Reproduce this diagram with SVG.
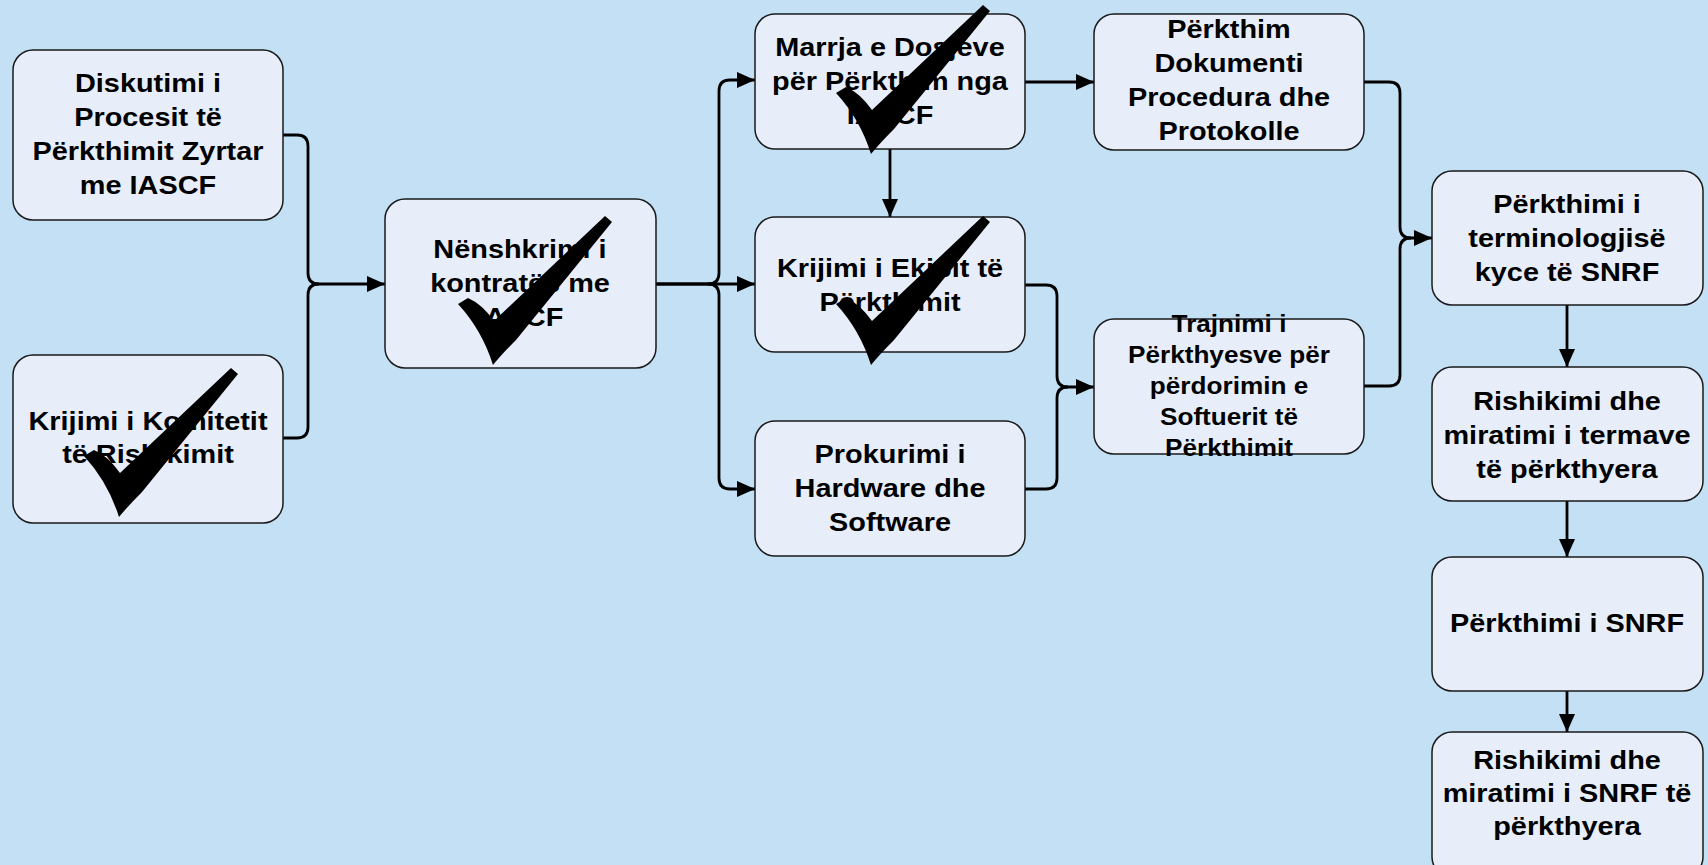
<svg xmlns="http://www.w3.org/2000/svg" xmlns:xlink="http://www.w3.org/1999/xlink" width="1708" height="865" viewBox="0 0 1708 865">
<style>
.box{fill:#E7EEF9;stroke:#1a1a1a;stroke-width:1.5}
.t{font-family:"Liberation Sans",Arial,sans-serif;font-weight:bold;font-size:26.5px;fill:#000;text-anchor:middle}
.ts{font-size:24px}
.c{fill:none;stroke:#000;stroke-width:2.8}
.chk{fill:#000}
</style>
<defs>
<marker id="arr" viewBox="0 0 18 16" refX="18" refY="8" markerWidth="18" markerHeight="16" orient="auto" markerUnits="userSpaceOnUse">
<path d="M0,0 L18,8 L0,16 Z" fill="#000"/>
</marker>
<path id="check" d="M0,88 L10,82 Q24,88 36,105 L147,0 L154,6 L58,124 Q44,138 35,149 Q24,114 0,88 Z"/>
</defs>
<rect x="0" y="0" width="1708" height="865" fill="#C3E0F4"/>

<g id="connectors">
<path class="c" d="M283,135 H297 Q308,135 308,146 V273 Q308,284 319,284 H385" marker-end="url(#arr)"/>
<path class="c" d="M283,438 H297 Q308,438 308,427 V295 Q308,284 319,284"/>
<path class="c" d="M656,284 H708 Q719,284 719,273 V91 Q719,80 730,80 H755" marker-end="url(#arr)"/>
<path class="c" d="M656,284 H755" marker-end="url(#arr)"/>
<path class="c" d="M708,284 Q719,284 719,295 V478 Q719,489 730,489 H755" marker-end="url(#arr)"/>
<path class="c" d="M1025,82 H1094" marker-end="url(#arr)"/>
<path class="c" d="M890,149 V217" marker-end="url(#arr)"/>
<path class="c" d="M1025,285 H1046 Q1057,285 1057,296 V376 Q1057,387 1068,387 H1094" marker-end="url(#arr)"/>
<path class="c" d="M1025,489 H1046 Q1057,489 1057,478 V398 Q1057,387 1068,387"/>
<path class="c" d="M1364,82 H1389 Q1400,82 1400,93 V227 Q1400,238 1411,238 H1432" marker-end="url(#arr)"/>
<path class="c" d="M1364,386 H1389 Q1400,386 1400,375 V249 Q1400,238 1411,238"/>
<path class="c" d="M1567,305 V367" marker-end="url(#arr)"/>
<path class="c" d="M1567,501 V557" marker-end="url(#arr)"/>
<path class="c" d="M1567,691 V732" marker-end="url(#arr)"/>
</g>

<g id="n1">
<rect class="box" x="13" y="50" width="270" height="170" rx="20"/>
<text class="t" transform="translate(148 0) scale(1.09 1)"><tspan x="0" y="92">Diskutimi i</tspan><tspan x="0" y="126">Procesit të</tspan><tspan x="0" y="160">Përkthimit Zyrtar</tspan><tspan x="0" y="194">me IASCF</tspan></text>
</g>

<g id="n2">
<rect class="box" x="13" y="355" width="270" height="168" rx="20"/>
<text class="t" transform="translate(148 0) scale(1.09 1)"><tspan x="0" y="430">Krijimi i Komitetit</tspan><tspan x="0" y="463">të Rishikimit</tspan></text>
<use href="#check" xlink:href="#check" class="chk" x="84" y="368"/>
</g>

<g id="n3">
<rect class="box" x="385" y="199" width="271" height="169" rx="20"/>
<text class="t" transform="translate(520 0) scale(1.09 1)"><tspan x="0" y="258">Nënshkrimi i</tspan><tspan x="0" y="292">kontratës me</tspan><tspan x="0" y="326">IASCF</tspan></text>
<use href="#check" xlink:href="#check" class="chk" x="458" y="216"/>
</g>

<g id="n4">
<rect class="box" x="755" y="14" width="270" height="135" rx="20"/>
<text class="t" transform="translate(890 0) scale(1.09 1)"><tspan x="0" y="56">Marrja e Dosjeve</tspan><tspan x="0" y="90">për Përkthim nga</tspan><tspan x="0" y="124">IASCF</tspan></text>
<use href="#check" xlink:href="#check" class="chk" x="836" y="5"/>
</g>

<g id="n5">
<rect class="box" x="755" y="217" width="270" height="135" rx="20"/>
<text class="t" transform="translate(890 0) scale(1.09 1)"><tspan x="0" y="277">Krijimi i Ekipit të</tspan><tspan x="0" y="311">Përkthimit</tspan></text>
<use href="#check" xlink:href="#check" class="chk" x="836" y="216"/>
</g>

<g id="n6">
<rect class="box" x="755" y="421" width="270" height="135" rx="20"/>
<text class="t" transform="translate(890 0) scale(1.09 1)"><tspan x="0" y="463">Prokurimi i</tspan><tspan x="0" y="497">Hardware dhe</tspan><tspan x="0" y="531">Software</tspan></text>
</g>

<g id="n7">
<rect class="box" x="1094" y="14" width="270" height="136" rx="20"/>
<text class="t" transform="translate(1229 0) scale(1.09 1)"><tspan x="0" y="38">Përkthim</tspan><tspan x="0" y="72">Dokumenti</tspan><tspan x="0" y="106">Procedura dhe</tspan><tspan x="0" y="140">Protokolle</tspan></text>
</g>

<g id="n8">
<rect class="box" x="1094" y="319" width="270" height="135" rx="20"/>
<text class="t ts" transform="translate(1229 0) scale(1.09 1)"><tspan x="0" y="332">Trajnimi i</tspan><tspan x="0" y="363">Përkthyesve për</tspan><tspan x="0" y="394">përdorimin e</tspan><tspan x="0" y="425">Softuerit të</tspan><tspan x="0" y="456">Përkthimit</tspan></text>
</g>

<g id="n9">
<rect class="box" x="1432" y="171" width="271" height="134" rx="20"/>
<text class="t" transform="translate(1567 0) scale(1.09 1)"><tspan x="0" y="213">Përkthimi i</tspan><tspan x="0" y="247">terminologjisë</tspan><tspan x="0" y="281">kyce të SNRF</tspan></text>
</g>

<g id="n10">
<rect class="box" x="1432" y="367" width="271" height="134" rx="20"/>
<text class="t" transform="translate(1567 0) scale(1.09 1)"><tspan x="0" y="410">Rishikimi dhe</tspan><tspan x="0" y="444">miratimi i termave</tspan><tspan x="0" y="478">të përkthyera</tspan></text>
</g>

<g id="n11">
<rect class="box" x="1432" y="557" width="271" height="134" rx="20"/>
<text class="t" transform="translate(1567 0) scale(1.09 1)"><tspan x="0" y="632">Përkthimi i SNRF</tspan></text>
</g>

<g id="n12">
<rect class="box" x="1432" y="732" width="271" height="145" rx="20"/>
<text class="t" transform="translate(1567 0) scale(1.09 1)"><tspan x="0" y="769">Rishikimi dhe</tspan><tspan x="0" y="802">miratimi i SNRF të</tspan><tspan x="0" y="835">përkthyera</tspan></text>
</g>
</svg>
